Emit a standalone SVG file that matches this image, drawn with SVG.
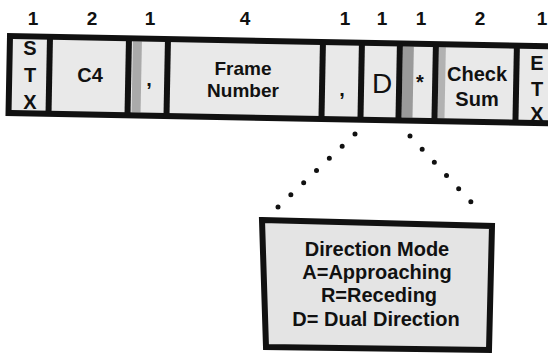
<svg xmlns="http://www.w3.org/2000/svg" width="548" height="359" viewBox="0 0 548 359">
  <style>
    .t { font-family: "Liberation Sans", Arial, sans-serif; font-weight: bold; fill: #111; text-anchor: middle; }
    .num { font-size: 19px; }
    .cell { font-size: 20px; }
    .thin { font-family: "Liberation Sans", Arial, sans-serif; font-weight: normal; fill: #111; text-anchor: middle; font-size: 28px; }
    .border { fill: none; stroke: #111; stroke-width: 6; }
    .div { stroke: #111; stroke-width: 6; }
    .bg { fill: #e9e9e9; }
    .dark { fill: #9a9a9a; }
    .dots { fill: none; stroke: #111; stroke-width: 5; stroke-linecap: round; }
  </style>
  <rect x="0" y="0" width="548" height="359" fill="#ffffff"/>

  <g id="sizes">
    <text class="t num" x="33" y="25">1</text>
    <text class="t num" x="92" y="25">2</text>
    <text class="t num" x="150" y="25">1</text>
    <text class="t num" x="245" y="25">4</text>
    <text class="t num" x="345" y="25">1</text>
    <text class="t num" x="382" y="25">1</text>
    <text class="t num" x="421" y="25">1</text>
    <text class="t num" x="480" y="25">2</text>
    <text class="t num" x="542" y="25">1</text>
  </g>

  <g id="frame-bar" transform="rotate(1.1 10 36)">
    <rect class="bg" x="10" y="36" width="546" height="77"/>
    <rect class="dark" x="133" y="39" width="9" height="71" opacity="0.8"/>
    <rect class="dark" x="403" y="39" width="11" height="71"/>
    <rect class="dark" x="439" y="39" width="7" height="71" opacity="0.7"/>
    <rect class="border" x="10" y="36" width="546" height="77"/>
    <line class="div" x1="50" y1="36" x2="50" y2="113"/>
    <line class="div" x1="129" y1="36" x2="129" y2="113"/>
    <line class="div" x1="168" y1="36" x2="168" y2="113"/>
    <line class="div" x1="323" y1="36" x2="323" y2="113"/>
    <line class="div" x1="362" y1="36" x2="362" y2="113"/>
    <line class="div" x1="400" y1="36" x2="400" y2="113"/>
    <line class="div" x1="436" y1="36" x2="436" y2="113"/>
    <line class="div" x1="517" y1="36" x2="517" y2="113"/>
  </g>

  <g id="stx">
    <text class="t cell" x="30" y="55">S</text>
    <text class="t cell" x="30" y="82">T</text>
    <text class="t cell" x="30" y="109">X</text>
  </g>
  <g id="c4"><text class="t cell" x="90" y="82">C4</text></g>
  <g id="comma1"><text class="t cell" x="149" y="86">,</text></g>
  <g id="frame-number">
    <text class="t" font-size="19" x="243" y="75">Frame</text>
    <text class="t" font-size="19" x="243" y="97">Number</text>
  </g>
  <g id="comma2"><text class="t cell" x="342" y="96">,</text></g>
  <g id="d"><text class="thin" x="382" y="93">D</text></g>
  <g id="star"><text class="t cell" x="420" y="89">*</text></g>
  <g id="checksum">
    <text class="t cell" x="477" y="81">Check</text>
    <text class="t cell" x="477" y="106">Sum</text>
  </g>
  <g id="etx">
    <text class="t cell" x="537" y="70">E</text>
    <text class="t cell" x="537" y="96">T</text>
    <text class="t cell" x="537" y="121">X</text>
  </g>

  <g id="connectors">
    <line class="dots" x1="355" y1="134" x2="278" y2="207" stroke-dasharray="0 17.68"/>
    <line class="dots" x1="410" y1="136" x2="483" y2="215" stroke-dasharray="0 17.93"/>
  </g>

  <g id="direction-mode">
    <polygon points="262,220 492,226 489,350 266,347" fill="#e4e4e4" stroke="#111" stroke-width="6" stroke-linejoin="miter"/>
    <text class="t" font-size="20" x="377" y="256">Direction Mode</text>
    <text class="t" font-size="20" x="377" y="279">A=Approaching</text>
    <text class="t" font-size="20" x="379" y="302">R=Receding</text>
    <text class="t" font-size="20" x="376" y="326">D= Dual Direction</text>
  </g>
</svg>
